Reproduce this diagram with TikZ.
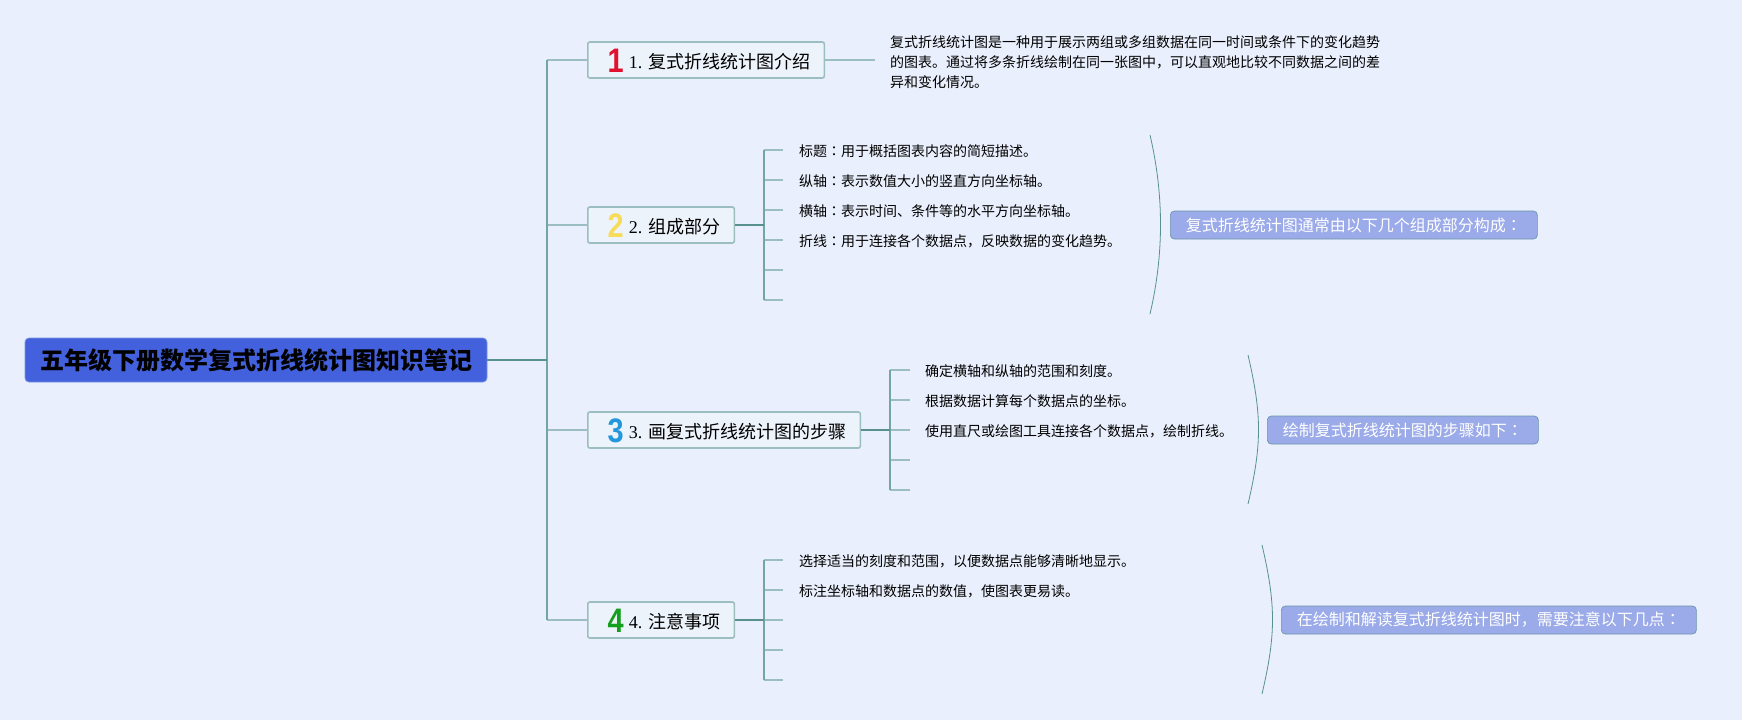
\documentclass[tikz,border=0pt]{standalone}
\usepackage{fontspec}
\setmainfont{Liberation Serif}
\newfontfamily\cjk{Noto Sans CJK SC}
\newfontfamily\cjkjp{Noto Sans CJK JP}
\newfontfamily\iconfont{Liberation Sans}
\usetikzlibrary{positioning}
\definecolor{pagebg}{RGB}{233,239,252}
\definecolor{rootfill}{RGB}{67,97,221}
\definecolor{rootline}{RGB}{120,150,225}
\definecolor{topicfill}{RGB}{237,243,251}
\definecolor{tealpale}{RGB}{155,190,192}
\definecolor{tealmid}{RGB}{115,165,165}
\definecolor{tealdark}{RGB}{88,145,140}
\definecolor{notefill}{RGB}{155,170,232}
\definecolor{noteline}{RGB}{105,150,170}
\definecolor{iconred}{RGB}{224,18,47}
\definecolor{iconyellow}{RGB}{247,220,90}
\definecolor{iconblue}{RGB}{34,151,220}
\definecolor{icongreen}{RGB}{19,160,31}
\newcommand{\cn}{{\cjkjp ：}}

\begin{document}
\begin{tikzpicture}[
  x=1pt,y=-1pt,
  rootbox/.style={draw=rootline,fill=rootfill,rounded corners=4pt,inner xsep=15pt,inner ysep=0pt,minimum height=44pt,font=\fontsize{24}{24}\selectfont\cjk\bfseries,text=black,line width=0.8pt},
  topic/.style={draw=tealpale,fill=topicfill,rounded corners=2pt,anchor=west,inner sep=0pt,minimum height=36pt,font=\fontsize{18}{18}\selectfont,line width=1.6pt},
  leaf/.style={anchor=west,inner sep=0pt,font=\fontsize{14}{20}\selectfont\cjk},
  note/.style={draw=noteline,fill=notefill,rounded corners=4pt,anchor=west,inner xsep=15.5pt,inner ysep=0pt,minimum height=28pt,font=\fontsize{16}{16}\selectfont\cjk,text=white,line width=0.7pt},
  branch/.style={draw=tealpale,line width=1.8pt},
  spine/.style={draw=tealmid,line width=1.8pt},
  hubline/.style={draw=tealdark,line width=2.2pt},
  bow/.style={draw=tealdark,line width=0.8pt},
]
  \fill[pagebg] (0,0) rectangle (1742,720);
  \useasboundingbox (0,0) rectangle (1742,720);

  \coordinate (sp) at (547,360);
  \node[rootbox] (root) at (256,360) {五年级下册数学复式折线统计图知识笔记};
  \foreach \i/\y/\col/\txt in {1/60/iconred/复式折线统计图介绍,2/225/iconyellow/组成部分,3/430/iconblue/画复式折线统计图的步骤,4/620/icongreen/注意事项} {
    \node[topic] (t\i) at (587,\y) {\makebox[41pt][r]{\raisebox{-12pt}[0pt][0pt]{\scalebox{0.85}[1]{\fontsize{34}{34}\selectfont\iconfont\bfseries\color{\col}\i}}\kern5pt}\raisebox{-8.3pt}[0pt][0pt]{\i.~\kern1.5pt{\cjk\txt}}\kern14pt};
    \draw[branch] (sp |- t\i.west) -- (t\i.west);
  }
  \draw[spine] (sp |- t1.west) -- (sp |- t4.west);
  \draw[hubline] (root.east) -- (sp);

  \coordinate (s1) at (875,60);
  \draw[branch] (t1.east) -- (s1);
  \node[leaf,align=left] (d1) at (890,62) {复式折线统计图是一种用于展示两组或多组数据在同一时间或条件下的变化趋势\\的图表。通过将多条折线绘制在同一张图中，可以直观地比较不同数据之间的差\\异和变化情况。};

  \coordinate (h2) at (764,225);
  \foreach \i/\y/\txt in {1/150/标题\cn 用于概括图表内容的简短描述。,2/180/纵轴\cn 表示数值大小的竖直方向坐标轴。,3/210/横轴\cn 表示时间、条件等的水平方向坐标轴。,4/240/折线\cn 用于连接各个数据点，反映数据的变化趋势。,5/270/,6/300/} {
    \coordinate (s2\i) at (783,\y);
    \draw[branch] (h2 |- s2\i) -- (s2\i);
    \node[leaf] (l2\i) at (799,\y+1.5) {\txt};
  }
  \draw[spine] (h2 |- s21) -- (h2 |- s26);
  \draw[hubline] (t2.east) -- (h2);

  \coordinate (h3) at (890,430);
  \foreach \i/\y/\txt in {1/370/确定横轴和纵轴的范围和刻度。,2/400/根据数据计算每个数据点的坐标。,3/430/使用直尺或绘图工具连接各个数据点，绘制折线。,4/460/,5/490/} {
    \coordinate (s3\i) at (910,\y);
    \draw[branch] (h3 |- s3\i) -- (s3\i);
    \node[leaf] (l3\i) at (925,\y+1.5) {\txt};
  }
  \draw[spine] (h3 |- s31) -- (h3 |- s35);
  \draw[hubline] (t3.east) -- (h3);

  \coordinate (h4) at (764,620);
  \foreach \i/\y/\txt in {1/560/选择适当的刻度和范围，以便数据点能够清晰地显示。,2/590/标注坐标轴和数据点的数值，使图表更易读。,3/620/,4/650/,5/680/} {
    \coordinate (s4\i) at (783,\y);
    \draw[branch] (h4 |- s4\i) -- (s4\i);
    \node[leaf] (l4\i) at (799,\y+1.5) {\txt};
  }
  \draw[spine] (h4 |- s41) -- (h4 |- s45);
  \draw[hubline] (t4.east) -- (h4);

  \node[note] (n2) at (1170,225) {复式折线统计图通常由以下几个组成部分构成\cn};
  \node[note] (n3) at (1267,430) {绘制复式折线统计图的步骤如下\cn};
  \node[note] (n4) at (1281,620) {在绘制和解读复式折线统计图时，需要注意以下几点\cn};

  \foreach \n/\x/\a/\b in {2/1150/135/314,3/1248/355/504,4/1262/545/694} {
    \coordinate (b\n a) at (\x,\a);
    \coordinate (b\n b) at (\x,\b);
    \draw[bow] (b\n a) .. controls +(14,60) and +(14,-60) .. (b\n b);
  }
\end{tikzpicture}
\end{document}
